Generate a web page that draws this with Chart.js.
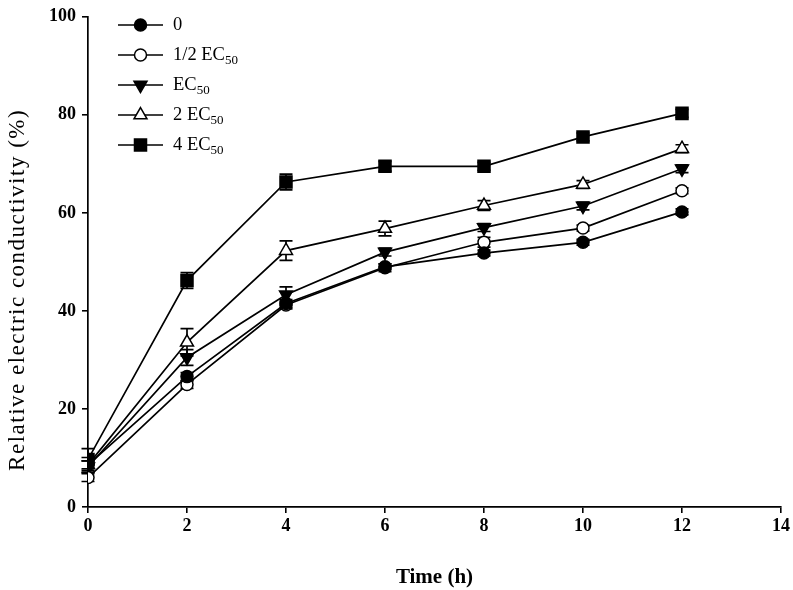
<!DOCTYPE html>
<html><head><meta charset="utf-8">
<script src="https://cdn.jsdelivr.net/npm/chart.js@4/dist/chart.umd.min.js"></script>
<style>html,body{margin:0;padding:0;background:#fff}#wrap{width:793px;height:590px}</style>
</head><body><div id="wrap"><canvas id="c" width="793" height="590"></canvas></div>
<script>
const times = [0, 2, 4, 6, 8, 10, 12];
const xTicks = [0, 2, 4, 6, 8, 10, 12, 14];
const yTicks = [0, 20, 40, 60, 80, 100];
const seriesNames = ["0", "1/2 EC50", "EC50", "2 EC50", "4 EC50"];
const yTitle = "Relative electric conductivity (%)";
const xTitle = "Time (h)";
const control = [8.6, 26.6, 41.5, 49.0, 51.8, 54.0, 60.2];
const halfEC50 = [6.0, 25.0, 41.2, 48.8, 54.0, 56.9, 64.5];
const ec50 = [8.2, 30.5, 43.3, 52.0, 57.0, 61.4, 69.0];
const twoEC50 = [8.6, 33.6, 52.3, 56.8, 61.5, 65.8, 73.1];
const fourEC50 = [9.7, 46.2, 66.3, 69.5, 69.5, 75.5, 80.3];
const controlErr = [0.8, 0.8, 0.8, 0.6, 0.6, 0.6, 0.6];
const halfEC50Err = [0.8, 0.8, 0.8, 0.8, 1.0, 0.6, 0.6];
const ec50Err = [1.2, 1.6, 1.6, 0.8, 0.8, 0.8, 0.8];
const twoEC50Err = [1.5, 2.8, 2.0, 1.5, 1.0, 0.8, 0.8];
const fourEC50Err = [2.2, 1.6, 1.6, 1.0, 0.8, 0.8, 0.8];

const values = [control, halfEC50, ec50, twoEC50, fourEC50];
const errors = [controlErr, halfEC50Err, ec50Err, twoEC50Err, fourEC50Err];
const styles = [
  {pointStyle:'circle', fill:'#000', r:6, rot:0},
  {pointStyle:'circle', fill:'#fff', r:6, rot:0},
  {pointStyle:'triangle', fill:'#000', r:7.5, rot:180},
  {pointStyle:'triangle', fill:'#fff', r:7.5, rot:0},
  {pointStyle:'rect', fill:'#000', r:8.5, rot:0}
];
const serif = '"Liberation Serif", "Times New Roman", serif';

const datasets = values.map((v, i) => ({
  label: seriesNames[i],
  data: times.map((t, j) => ({x: t, y: v[j]})),
  borderColor: '#000',
  borderWidth: 1.7,
  backgroundColor: styles[i].fill,
  pointStyle: styles[i].pointStyle,
  pointRadius: styles[i].r,
  pointRotation: styles[i].rot,
  pointBorderColor: '#000',
  pointBorderWidth: 1.5,
  pointBackgroundColor: styles[i].fill,
  tension: 0,
  fill: false,
  errs: errors[i]
}));

const errorBars = {
  id: 'errorBars',
  beforeDatasetsDraw(chart) {
    const ctx = chart.ctx, xs = chart.scales.x, ys = chart.scales.y;
    ctx.save();
    ctx.strokeStyle = '#000';
    ctx.lineWidth = 1.7;
    chart.data.datasets.forEach(ds => {
      ds.data.forEach((p, j) => {
        const e = ds.errs[j];
        const px = xs.getPixelForValue(p.x);
        const top = ys.getPixelForValue(p.y + e);
        const bot = ys.getPixelForValue(p.y - e);
        ctx.beginPath();
        ctx.moveTo(px, top); ctx.lineTo(px, bot);
        ctx.moveTo(px - 6.5, top); ctx.lineTo(px + 6.5, top);
        ctx.moveTo(px - 6.5, bot); ctx.lineTo(px + 6.5, bot);
        ctx.stroke();
      });
    });
    ctx.restore();
  }
};

const yTitlePlugin = {
  id: 'yTitlePlugin',
  afterDraw(chart) {
    const ctx = chart.ctx, ys = chart.scales.y;
    ctx.save();
    ctx.translate(18, (ys.top + ys.bottom) / 2 + 28);
    ctx.rotate(-Math.PI / 2);
    ctx.fillStyle = '#000';
    ctx.font = '23px ' + serif;
    ctx.letterSpacing = '1.5px';
    ctx.textAlign = 'center';
    ctx.textBaseline = 'middle';
    ctx.fillText(yTitle, 0, 0);
    ctx.restore();
  }
};

const customLegend = {
  id: 'customLegend',
  afterDraw(chart) {
    const ctx = chart.ctx;
    ctx.save();
    const x0 = 118, x1 = 163, tx = 173, y0 = 25, dy = 30;
    chart.data.datasets.forEach((ds, i) => {
      const y = y0 + i * dy;
      ctx.strokeStyle = '#000';
      ctx.lineWidth = 1.7;
      ctx.beginPath(); ctx.moveTo(x0, y); ctx.lineTo(x1, y); ctx.stroke();
      ctx.fillStyle = ds.pointBackgroundColor;
      ctx.strokeStyle = '#000';
      ctx.lineWidth = 1.5;
      Chart.helpers.drawPoint(ctx, {pointStyle: ds.pointStyle, rotation: ds.pointRotation, radius: ds.pointRadius, borderWidth: 1.5}, (x0 + x1) / 2, y);
      ctx.fillStyle = '#000';
      ctx.textBaseline = 'middle';
      ctx.textAlign = 'left';
      const name = ds.label;
      const m = name.match(/^(.*EC)(50)$/);
      ctx.font = '18.5px ' + serif;
      if (m) {
        ctx.fillText(m[1], tx, y);
        const w = ctx.measureText(m[1]).width;
        ctx.font = '13px ' + serif;
        ctx.fillText(m[2], tx + w, y + 6);
      } else {
        ctx.fillText(name, tx, y);
      }
    });
    ctx.restore();
  }
};

new Chart(document.getElementById('c'), {
  type: 'line',
  data: { datasets },
  plugins: [errorBars, customLegend, yTitlePlugin],
  options: {
    responsive: false,
    animation: false,
    layout: { padding: { left: 0, right: 12, top: 8, bottom: 0 } },
    plugins: { legend: { display: false }, tooltip: { enabled: false } },
    scales: {
      x: {
        type: 'linear', min: 0, max: 14,
        afterBuildTicks(s) { s.ticks = xTicks.map(v => ({value: v})); },
        afterFit(s) { s.height = 83; },
        grid: { display: true, drawOnChartArea: false, drawTicks: true, tickLength: 6, color: '#000', lineWidth: 1.6 },
        border: { display: true, color: '#000', width: 1.7 },
        ticks: { color: '#000', padding: 3, maxRotation: 0, font: { family: serif, size: 18, weight: 'bold' } },
        title: { display: true, text: xTitle, color: '#000', padding: { top: 20, bottom: 0 }, font: { family: serif, size: 21, weight: 'bold' } }
      },
      y: {
        type: 'linear', min: 0, max: 100,
        afterBuildTicks(s) { s.ticks = yTicks.map(v => ({value: v})); },
        afterFit(s) { s.width = 88; },
        grid: { display: true, drawOnChartArea: false, drawTicks: true, tickLength: 6, color: '#000', lineWidth: 1.6 },
        border: { display: true, color: '#000', width: 1.7 },
        ticks: { color: '#000', padding: 6, font: { family: serif, size: 18, weight: 'bold' } },
        title: { display: false }
      }
    }
  }
});
</script>
</body></html>
